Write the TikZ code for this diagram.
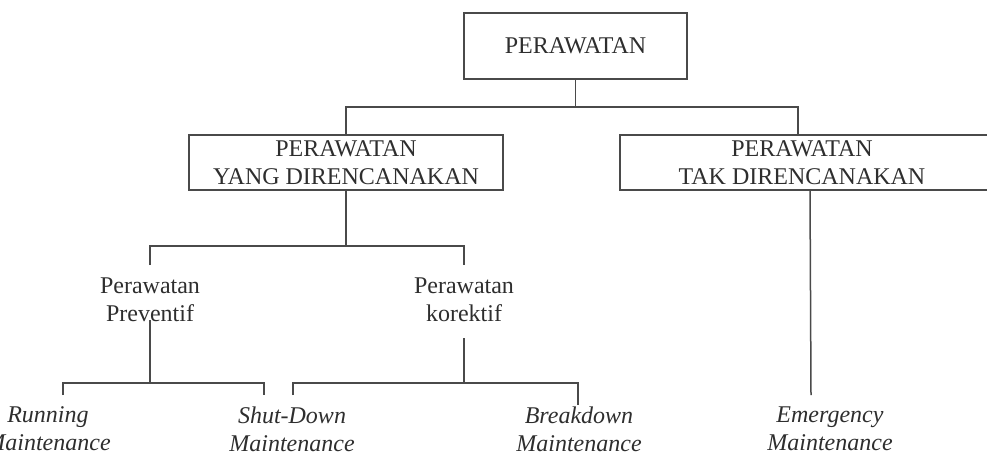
\documentclass[tikz,border=0pt]{standalone}
\usepackage{fontspec}
\setmainfont{Liberation Serif}
\definecolor{lc}{HTML}{4A4A4A}
\definecolor{tc}{HTML}{2E2E2E}
\begin{document}
\begin{tikzpicture}[x=1pt,y=-1pt,
  every node/.style={text=tc, font=\fontsize{24}{28}\selectfont, inner sep=0pt},
  box/.style={draw=lc, line width=1.5pt, rectangle, align=center},
  txt/.style={align=center},
  itxt/.style={align=center, font=\fontsize{24}{28}\selectfont\itshape},
  conn/.style={draw=lc, line width=1.5pt}]
\useasboundingbox (0,0) rectangle (987,455);

% boxes
\node[box, minimum width=223, minimum height=66] (top) at (575.5,46) {PERAWATAN};
\node[box, minimum width=314, minimum height=55] (plan) at (346,162.5) {PERAWATAN\\YANG DIRENCANAKAN};
\node[box, minimum width=380, minimum height=55,
  label={[align=center, xshift=-8pt]center:PERAWATAN\\TAK DIRENCANAKAN}] (unplan) at (810,162.5) {};

% middle level
\node[txt] (prev) at (150,300) {Perawatan\\Preventif};
\node[txt] (kor) at (464,300) {Perawatan\\korektif};

% bottom level
\node[itxt] (run) at (48,429) {Running\\Maintenance};
\node[itxt] (shut) at (292,429) {Shut-Down\\Maintenance};
\node[itxt] (brk) at (579,429) {Breakdown\\Maintenance};
\node[itxt] (emg) at (830,429) {Emergency\\Maintenance};

% junction coordinates
\coordinate (h1R) at (798,107);
\coordinate (u1) at (798,135);
\coordinate (h2) at (346,246);
\coordinate (pT) at (150,265);
\coordinate (kT) at (464,265);
\coordinate (pB) at (150,320);
\coordinate (pH) at (150,383);
\coordinate (rT) at (63,395);
\coordinate (sT) at (264,395);
\coordinate (kB) at (464,338);
\coordinate (kH) at (464,383);
\coordinate (shT) at (293,395);
\coordinate (bT) at (578,405);
\coordinate (eT) at (811,395);

% connectors
\draw[conn] (top.south) -- (top.south |- h1R);
\draw[conn] (plan.north) |- (h1R) -- (u1);
\draw[conn] (plan.south) -- (h2);
\draw[conn] (pT) |- (h2) -| (kT);
\draw[conn] (pB) -- (pH);
\draw[conn] (rT) |- (pH) -| (sT);
\draw[conn] (kB) -- (kH);
\draw[conn] (shT) |- (kH) -| (bT);
\draw[conn] (unplan.south) -- (eT);
\end{tikzpicture}
\end{document}
